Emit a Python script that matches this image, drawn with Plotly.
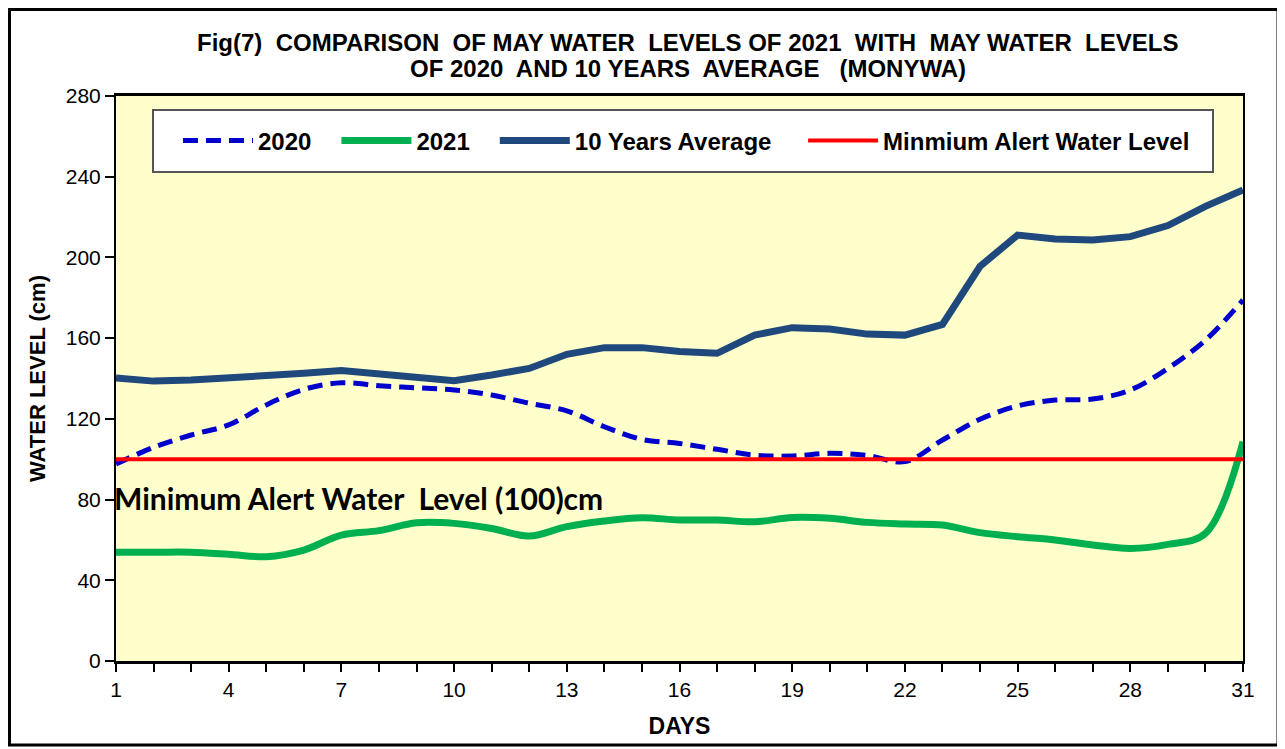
import plotly.graph_objects as go

days = list(range(1, 32))
level_2020 = [97.6, 105.9, 112.0, 117.0, 126.9, 134.6, 137.9, 136.4, 135.4, 134.3,
              131.8, 127.7, 124.0, 116.1, 109.8, 107.8, 104.9, 102.0, 101.6, 102.9,
              101.9, 98.8, 109.5, 119.8, 126.4, 129.3, 129.8, 134.3, 145.0, 159.0, 178.9]
level_2021 = [53.9, 53.9, 53.9, 52.9, 51.7, 55.0, 62.4, 64.6, 68.5, 68.2,
              65.7, 61.9, 66.6, 69.4, 71.0, 69.9, 69.9, 69.0, 71.1, 70.7,
              68.7, 67.9, 67.4, 63.6, 61.6, 60.0, 57.5, 55.8, 57.8, 63.2, 108.7]
level_avg10 = [140.2, 138.7, 139.2, 140.6, 141.2, 142.6, 143.9, 142.2, 140.0, 138.9,
               141.7, 145.0, 152.0, 155.3, 155.3, 153.4, 152.5, 161.5, 165.2, 164.5,
               162.0, 161.5, 166.8, 195.6, 211.1, 209.1, 208.6, 210.3, 215.8, 225.3, 233.4]
ALERT_LEVEL = 100
alert_line = [ALERT_LEVEL for _ in days]

series_names = ["2020", "2021", "10 Years Average", "Minmium Alert Water Level"]
x_tick_vals = [1, 4, 7, 10, 13, 16, 19, 22, 25, 28, 31]
y_tick_vals = [0, 40, 80, 120, 160, 200, 240, 280]
title_lines = ["Fig(7)  COMPARISON  OF MAY WATER  LEVELS OF 2021  WITH  MAY WATER  LEVELS",
               "OF 2020  AND 10 YEARS  AVERAGE   (MONYWA)"]
alert_label = "Minimum Alert Water  Level (100)cm"

FONT = "Liberation Sans"
PAD = "\u00a0\u00a0\u00a0"

# page offset (body margin of the html page)
OFF = 8
W, H = 1285 - OFF, 749 - OFF
ML, MT = 116 - OFF, 96 - OFF
MR = W - (1243 - OFF)
MB = H - (661 - OFF)
PW, PH = W - ML - MR, H - MT - MB


def px(xp):
    return (xp - OFF - ML) / PW


def py(yp):
    return (H - MB - (yp - OFF)) / PH


fig = go.Figure()
fig.add_trace(go.Scatter(x=days, y=level_2020, name=series_names[0] + PAD, mode="lines",
                         line=dict(color="#0000CC", width=5, dash="15px,8px", shape="spline")))
fig.add_trace(go.Scatter(x=days, y=level_2021, name=series_names[1] + PAD, mode="lines",
                         line=dict(color="#00B050", width=7, shape="spline")))
fig.add_trace(go.Scatter(x=days, y=level_avg10, name=series_names[2] + PAD + "\u00a0", mode="lines",
                         line=dict(color="#1F497D", width=7)))
fig.add_trace(go.Scatter(x=days, y=alert_line, name=series_names[3], mode="lines",
                         line=dict(color="#FF0000", width=4)))

fig.update_layout(
    width=W, height=H,
    margin=dict(l=ML, r=MR, t=MT, b=MB),
    paper_bgcolor="white",
    plot_bgcolor="#FFFFCC",
    font=dict(family=FONT, color="black", size=21),
    showlegend=True,
    legend=dict(orientation="h", x=px(178), y=py(141), xanchor="left", yanchor="middle",
                bgcolor="rgba(0,0,0,0)", borderwidth=0,
                font=dict(family=FONT, size=24, weight="bold"),
                itemwidth=70),
    xaxis=dict(range=[1, 31], tickvals=x_tick_vals, ticks="outside", ticklen=8,
               tickcolor="black", tickwidth=2, showgrid=False, zeroline=False,
               showline=True, linecolor="black", linewidth=3, mirror=True,
               minor=dict(dtick=1, ticks="outside", ticklen=8, tickcolor="black", tickwidth=1.5),
               tickfont=dict(size=21),
               title=dict(text="DAYS", font=dict(size=23, weight="bold"), standoff=18)),
    yaxis=dict(range=[0, 280], tickvals=y_tick_vals, ticks="outside", ticklen=9,
               tickcolor="black", tickwidth=2, showgrid=False, zeroline=False,
               showline=True, linecolor="black", linewidth=2, mirror=True,
               tickfont=dict(size=21),
               title=dict(text="WATER LEVEL (cm)", font=dict(size=22, weight="bold"), standoff=14)),
)

fig.add_annotation(text=title_lines[0], xref="paper", yref="paper", x=px(687), y=py(42),
                   xanchor="center", yanchor="middle", showarrow=False,
                   font=dict(family=FONT, size=24, weight="bold"))
fig.add_annotation(text=title_lines[1], xref="paper", yref="paper", x=px(688), y=py(68),
                   xanchor="center", yanchor="middle", showarrow=False,
                   font=dict(family=FONT, size=24, weight="bold"))

fig.add_annotation(text=alert_label, xref="x", yref="y", x=1, y=81,
                   xanchor="left", yanchor="middle", xshift=-4,
                   showarrow=False, font=dict(family="Lato", size=30, weight="bold", color="black"))

# legend frame
fig.add_shape(type="rect", xref="paper", yref="paper",
              x0=px(153), x1=px(1213), y0=py(172), y1=py(110),
              line=dict(color="#555555", width=2), fillcolor="white", layer="above")

# outer frame
fig.add_shape(type="rect", xref="paper", yref="paper",
              x0=(1.5 - ML) / PW, x1=px(1278), y0=py(745), y1=(H - MB - 1.5) / PH,
              line=dict(color="black", width=3), fillcolor="rgba(0,0,0,0)", layer="above")

fig.write_html("out.html")
